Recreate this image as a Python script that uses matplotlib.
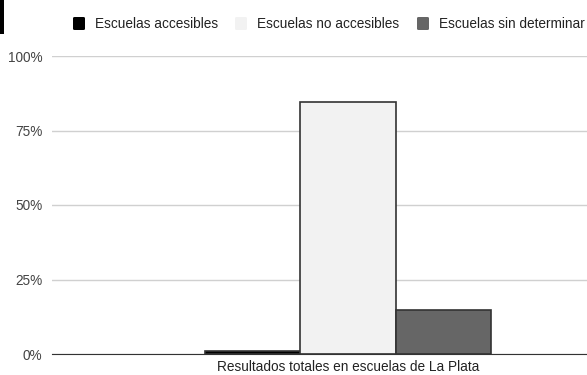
import matplotlib.pyplot as plt
from matplotlib.patches import Rectangle, FancyBboxPatch
import numpy as np

plt.rcParams['font.family'] = ['Liberation Sans', 'DejaVu Sans']

category = "Resultados totales en escuelas de La Plata"
series = ["Escuelas accesibles", "Escuelas no accesibles", "Escuelas sin determinar"]
values = [1.0, 84.5, 14.8]
colors = ["#000000", "#f2f2f2", "#666666"]
yticks = [0, 25, 50, 75, 100]

W, H = 587, 375
fig = plt.figure(figsize=(W / 100, H / 100), dpi=100)

# plot area in pixels (right side runs past the image edge, as in the original)
left, right, top, bottom = 52, 644, 56, 354
ax = fig.add_axes([left / W, 1 - bottom / H, (right - left) / W, (bottom - top) / H])

bw = 0.161
xs = (np.arange(len(series)) - 1) * bw
for x, v, c, s in zip(xs, values, colors, series):
    ax.bar(x, v, width=bw, color=c, edgecolor="#333333", linewidth=1.2, label=s, zorder=3)

ax.set_xlim(-0.5, 0.5)
ax.set_ylim(0, 100)
ax.set_yticks(yticks)
ax.set_yticklabels([f"{t}%" for t in yticks], color="#444444", fontsize=9.8)
ax.yaxis.grid(True, color="#d0d0d0", linewidth=1)
ax.tick_params(axis="y", length=0, pad=7)
ax.set_xticks([0])
ax.set_xticklabels([category], fontsize=9.8, color="#222222")
ax.tick_params(axis="x", length=0, pad=4)
for sp in ["top", "right", "left"]:
    ax.spines[sp].set_visible(False)
ax.spines["bottom"].set_color("#333333")
ax.spines["bottom"].set_zorder(4)

# legend drawn by hand along the top
lx = [73, 235, 417]
for x0, c, s in zip(lx, colors, series):
    fig.patches.append(FancyBboxPatch((x0 / W, 1 - 30 / H), 12 / W, 13 / H,
                                      boxstyle="round,pad=0,rounding_size=0.003",
                                      transform=fig.transFigure, facecolor=c,
                                      edgecolor="none"))
    fig.text((x0 + 22) / W, 1 - 23.5 / H, s, fontsize=9.8, color="#222222", va="center")

# black strip at the top-left edge of the original image
fig.patches.append(Rectangle((0, 1 - 34 / H), 4 / W, 34 / H, transform=fig.transFigure,
                             facecolor="black", edgecolor="none"))

fig.savefig("out.png", dpi=100)
